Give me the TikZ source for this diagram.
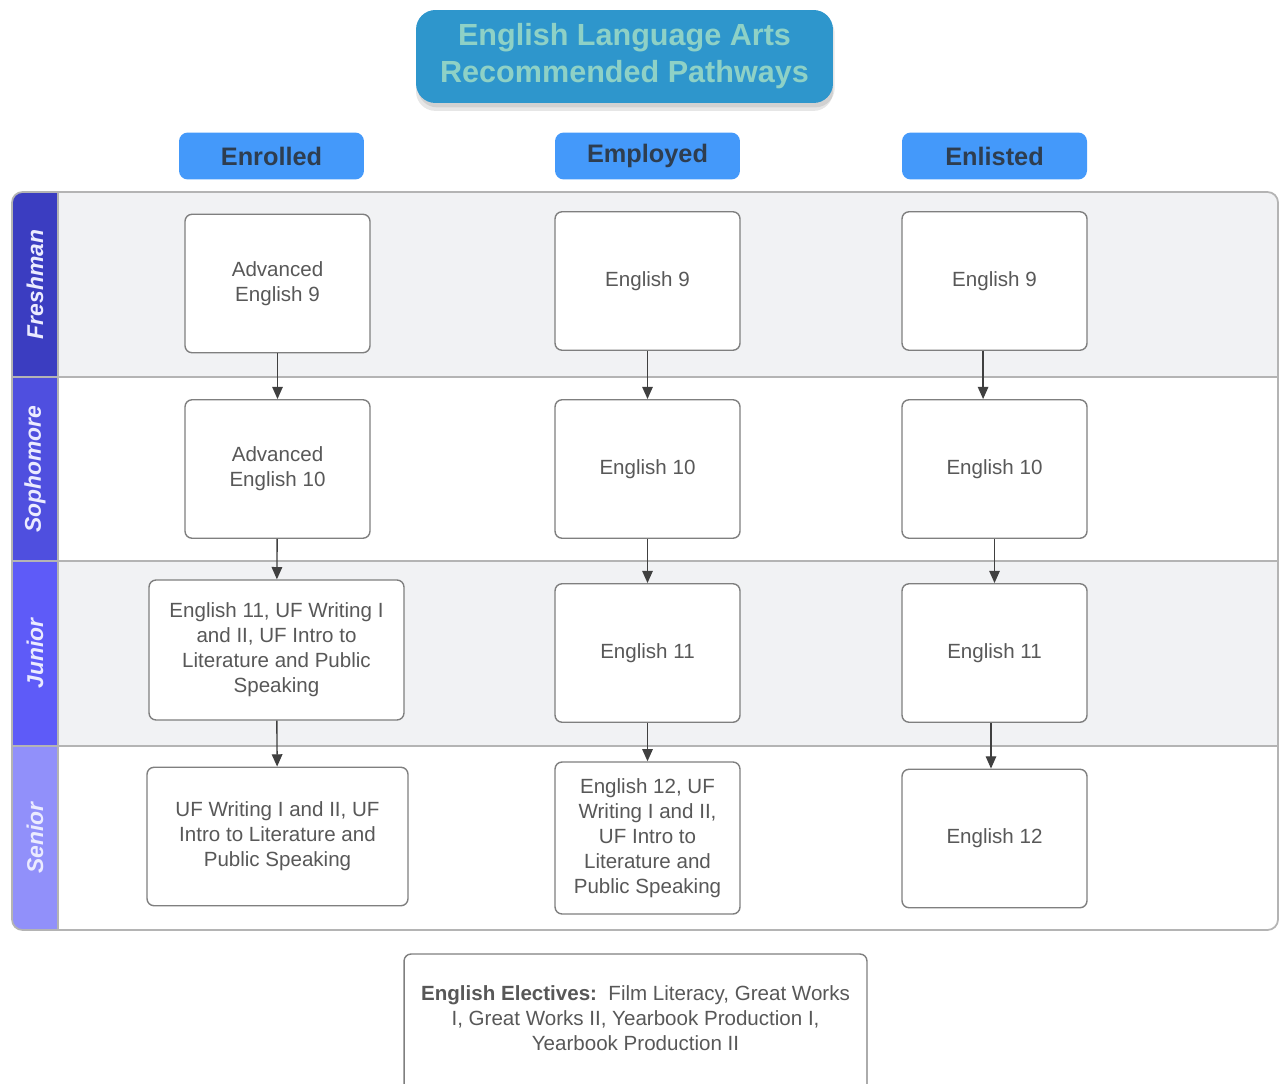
\documentclass[tikz,border=0pt]{standalone}
\usepackage{fontspec}
\setmainfont{Liberation Sans}
\usetikzlibrary{arrows.meta,shadows}

\definecolor{titleblue}{HTML}{2E96CC}
\definecolor{titletext}{HTML}{8ED1C6}
\definecolor{headblue}{HTML}{4499FA}
\definecolor{headtext}{HTML}{2E3D4F}
\definecolor{freshcol}{HTML}{3B3DC1}
\definecolor{sophcol}{HTML}{4F4FDF}
\definecolor{juncol}{HTML}{5E5BF8}
\definecolor{sencol}{HTML}{9190FA}
\definecolor{lanegray}{HTML}{F1F2F4}
\definecolor{txtgray}{HTML}{585858}
\definecolor{boxline}{HTML}{7F7F7F}
\definecolor{frameline}{HTML}{B4B4B4}

\tikzset{
  course/.style={draw=boxline, line width=0.8pt, rounded corners=4pt, fill=white,
    align=center, text=txtgray, inner sep=0pt, minimum width=3.7cm, minimum height=2.77cm,
    font=\fontsize{11.7}{14.2}\selectfont},
  pathhead/.style={fill=headblue, rounded corners=5pt, text=headtext, inner sep=0pt,
    minimum width=3.7cm, minimum height=0.94cm, font=\fontsize{14.4}{17}\selectfont\bfseries},
  lanelabel/.style={rotate=90, text=white!92!blue, font=\fontsize{13}{15}\selectfont\bfseries\itshape},
  arr/.style={draw=black!75, line width=0.8pt, -{Triangle[length=7pt,width=6pt]}}
}

\begin{document}
\begin{tikzpicture}[x=0.02cm, y=-0.02cm]
    \useasboundingbox (0,0) rectangle (1280,1084);

    % title
    \node[fill=titleblue, rounded corners=11pt, minimum width=8.34cm, minimum height=1.86cm, align=center,
          text=titletext, font=\fontsize{17.4}{21}\selectfont\bfseries,
          drop shadow={opacity=0.2, shadow xshift=0pt, shadow yshift=-4.5pt},
          drop shadow={opacity=0.2, shadow xshift=1pt, shadow yshift=-2.5pt}] at (624.5,56.5) (title)
          {English Language Arts\\Recommended Pathways};

    % column heads
    \node[pathhead] at (271.5,156) (enrolled) {Enrolled};
    \node[pathhead] at (647.5,156) (employed) {Employed};
    \node[pathhead] at (994.5,156) (enlisted) {Enlisted};

    % swimlanes
    \begin{scope}
      \clip[rounded corners=6pt] (12,192) rectangle (1278,930);
      \fill[lanegray] (12,192) rectangle (1278,377);
      \fill[white] (12,377) rectangle (1278,561);
      \fill[lanegray] (12,561) rectangle (1278,746);
      \fill[white] (12,746) rectangle (1278,930);
      \fill[freshcol] (12,192) rectangle (58,377);
      \fill[sophcol] (12,377) rectangle (58,561);
      \fill[juncol] (12,561) rectangle (58,746);
      \fill[sencol] (12,746) rectangle (58,930);
    \end{scope}
    \draw[frameline, line width=1pt] (12,377) -- (1278,377) (12,561) -- (1278,561) (12,746) -- (1278,746);
    \draw[frameline, line width=1pt] (58,192) -- (58,930);
    \draw[frameline, line width=1pt, rounded corners=6pt] (12,192) rectangle (1278,930);

    \node[lanelabel] at (35,284.5) (freshman) {Freshman};
    \node[lanelabel] at (35,469) (sophomore) {Sophomore};
    \node[lanelabel] at (35,653.5) (junior) {Junior};
    \node[lanelabel] at (35,838) (senior) {Senior};

    % enrolled
    \node[course] at (277.5,283.5) (c1a) {Advanced\\English 9};
    \node[course] at (277.5,469) (c1b) {Advanced\\English 10};
    \node[course, minimum width=5.1cm, minimum height=2.8cm] at (276.5,650) (c1c)
          {English 11, UF Writing I\\and II, UF Intro to\\Literature and Public\\Speaking};
    \node[course, minimum width=5.22cm] at (277.5,836.5) (c1d)
          {UF Writing I and II, UF\\Intro to Literature and\\Public Speaking};

    % employed
    \node[course] at (647.5,281) (c2a) {English 9};
    \node[course] at (647.5,469) (c2b) {English 10};
    \node[course] at (647.5,653) (c2c) {English 11};
    \node[course, minimum height=3.04cm] at (647.5,838) (c2d)
          {English 12, UF\\Writing I and II,\\UF Intro to\\Literature and\\Public Speaking};

    % enlisted
    \node[course] at (994.5,281) (c3a) {English 9};
    \node[course] at (994.5,469) (c3b) {English 10};
    \node[course] at (994.5,653) (c3c) {English 11};
    \node[course] at (994.5,838.5) (c3d) {English 12};

    % electives
    \node[course, minimum width=9.26cm, minimum height=2.76cm, text depth=6pt] at (635.5,1023) (electives)
          {\textbf{English Electives:}\ \ Film Literacy, Great Works\\I, Great Works II, Yearbook Production I,\\Yearbook Production II};

    \draw[arr] (c1a) -- (c1b);
    \draw[arr] (c1b) -- (c1c);
    \draw[arr] (c1c) -- (c1d);
    \draw[arr] (c2a) -- (c2b);
    \draw[arr] (c2b) -- (c2c);
    \draw[arr] (c2c) -- (c2d);
    \draw[arr] ([xshift=-6.5pt]c3a.south) -- ([xshift=-6.5pt]c3b.north);
    \draw[arr] (c3b) -- (c3c);
    \draw[arr] ([xshift=-2pt]c3c.south) -- ([xshift=-2pt]c3d.north);

\end{tikzpicture}
\end{document}
